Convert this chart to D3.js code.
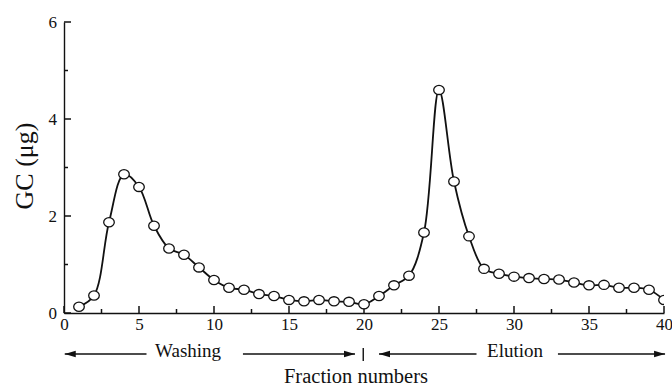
<!DOCTYPE html>
<html>
<head>
<meta charset="utf-8">
<script src="https://cdn.jsdelivr.net/npm/d3@7"></script>
<style>
  body { margin: 0; background: #fff; }
  svg text { font-family: "Liberation Serif", "Times New Roman", serif; fill: #111; }
</style>
</head>
<body>
<svg id="chart" width="672" height="389"></svg>
<script>
'use strict';

// ── Data ──────────────────────────────────────────────────────────────────
const fractions = d3.range(1, 41);
const gcValues = [
  0.13, 0.36, 1.87, 2.86, 2.60, 1.80, 1.33, 1.20, 0.94, 0.68,
  0.52, 0.48, 0.39, 0.35, 0.27, 0.24, 0.27, 0.24, 0.23, 0.18,
  0.35, 0.57, 0.77, 1.66, 4.60, 2.71, 1.58, 0.91, 0.81, 0.75,
  0.72, 0.70, 0.69, 0.63, 0.57, 0.58, 0.52, 0.52, 0.48, 0.27
];
const xTicks = [0, 5, 10, 15, 20, 25, 30, 35, 40];
const xMinor = [2.5, 7.5, 12.5, 17.5, 22.5, 27.5, 32.5, 37.5];
const yTicks = [0, 2, 4, 6];
const yMinor = [1, 3, 5];

// phase annotations under the axis, in fraction units
const phases = [
  { label: 'Washing', tipL: 0.05, lineL: 5.5, mid: 8.27, lineR: 11.93, tipR: 19.4 },
  { label: 'Elution', tipL: 21.0, lineL: 27.5, mid: 30.07, lineR: 32.93, tipR: 40.07 }
];
const divider = 19.95;

const points = fractions.map((f, i) => ({ f, v: gcValues[i] }));

// ── Scales ────────────────────────────────────────────────────────────────
const svg = d3.select('#chart');
const x = d3.scaleLinear().domain([0, 40]).range([64, 664]);
const y = d3.scaleLinear().domain([0, 6]).range([313, 22]);
const INK = '#111';

// ── Axes (labels from d3.axis, inward ticks drawn from the same scales) ───
const xAxis = svg.append('g')
  .attr('transform', `translate(0,${y(0)})`)
  .call(d3.axisBottom(x).tickValues(xTicks).tickSize(0).tickPadding(5).tickFormat(d3.format('d')));
const yAxis = svg.append('g')
  .attr('transform', `translate(${x(0)},0)`)
  .call(d3.axisLeft(y).tickValues(yTicks).tickSize(0).tickPadding(7).tickFormat(d3.format('d')));

[xAxis, yAxis].forEach(a => {
  a.attr('font-family', null).attr('font-size', null);
  a.select('.domain').attr('stroke', INK).attr('stroke-width', 1.4);
  a.selectAll('text')
    .attr('font-family', 'Liberation Serif')
    .attr('font-size', 17)
    .attr('fill', INK);
});

const tickG = svg.append('g').attr('stroke', INK).attr('stroke-width', 1.5);
tickG.selectAll('.xt')
  .data(xTicks.map(v => ({ v, len: 7 })).concat(xMinor.map(v => ({ v, len: 4 }))))
  .join('line').attr('class', 'xt')
  .attr('x1', d => x(d.v)).attr('x2', d => x(d.v))
  .attr('y1', y(0)).attr('y2', d => y(0) - d.len);
tickG.selectAll('.yt')
  .data(yTicks.map(v => ({ v, len: 7 })).concat(yMinor.map(v => ({ v, len: 4 }))))
  .join('line').attr('class', 'yt')
  .attr('x1', x(0)).attr('x2', d => x(0) + d.len)
  .attr('y1', d => y(d.v)).attr('y2', d => y(d.v));

// ── Curve + markers ───────────────────────────────────────────────────────
svg.append('clipPath').attr('id', 'plot-clip')
  .append('rect').attr('x', x(0) - 10).attr('y', 0)
  .attr('width', x(40) - x(0) + 10).attr('height', y(0) + 10);

const plot = svg.append('g').attr('clip-path', 'url(#plot-clip)');

const line = d3.line()
  .x(d => x(d.f)).y(d => y(d.v))
  .curve(d3.curveCatmullRom.alpha(0.5));

plot.append('path')
  .datum(points)
  .attr('d', line)
  .attr('fill', 'none')
  .attr('stroke', INK)
  .attr('stroke-width', 1.8);

plot.selectAll('ellipse')
  .data(points).join('ellipse')
  .attr('cx', d => x(d.f)).attr('cy', d => y(d.v))
  .attr('rx', 5.3).attr('ry', 4.6)
  .attr('fill', '#fff')
  .attr('stroke', INK)
  .attr('stroke-width', 1.3);

// ── Axis titles ───────────────────────────────────────────────────────────
svg.append('text')
  .attr('transform', `translate(33,166) rotate(-90)`)
  .attr('text-anchor', 'middle')
  .style('font-size', '26px')
  .text('GC (μg)');

svg.append('text')
  .attr('x', 356).attr('y', 383)
  .attr('text-anchor', 'middle')
  .style('font-size', '20.5px')
  .text('Fraction numbers');

// ── Phase arrows ──────────────────────────────────────────────────────────
const arrowY = 354;
function arrowHead(tipX, dir) {
  // dir = -1 points left, +1 points right
  const len = 11, half = 3.2;
  return `M${tipX},${arrowY} L${tipX - dir * len},${arrowY - half} L${tipX - dir * len},${arrowY + half} Z`;
}
const ann = svg.append('g');
phases.forEach(p => {
  ann.append('line')
    .attr('x1', x(p.tipL)).attr('x2', x(p.lineL))
    .attr('y1', arrowY).attr('y2', arrowY)
    .attr('stroke', INK).attr('stroke-width', 1.4);
  ann.append('line')
    .attr('x1', x(p.lineR)).attr('x2', x(p.tipR))
    .attr('y1', arrowY).attr('y2', arrowY)
    .attr('stroke', INK).attr('stroke-width', 1.4);
  ann.append('path').attr('d', arrowHead(x(p.tipL), -1)).attr('fill', INK);
  ann.append('path').attr('d', arrowHead(x(p.tipR), 1)).attr('fill', INK);
  ann.append('text')
    .attr('x', x(p.mid)).attr('y', 357)
    .attr('text-anchor', 'middle')
    .style('font-size', '19px')
    .text(p.label);
});
ann.append('line')
  .attr('x1', x(divider)).attr('x2', x(divider))
  .attr('y1', 348).attr('y2', 361)
  .attr('stroke', INK).attr('stroke-width', 1.4);
</script>
</body>
</html>
